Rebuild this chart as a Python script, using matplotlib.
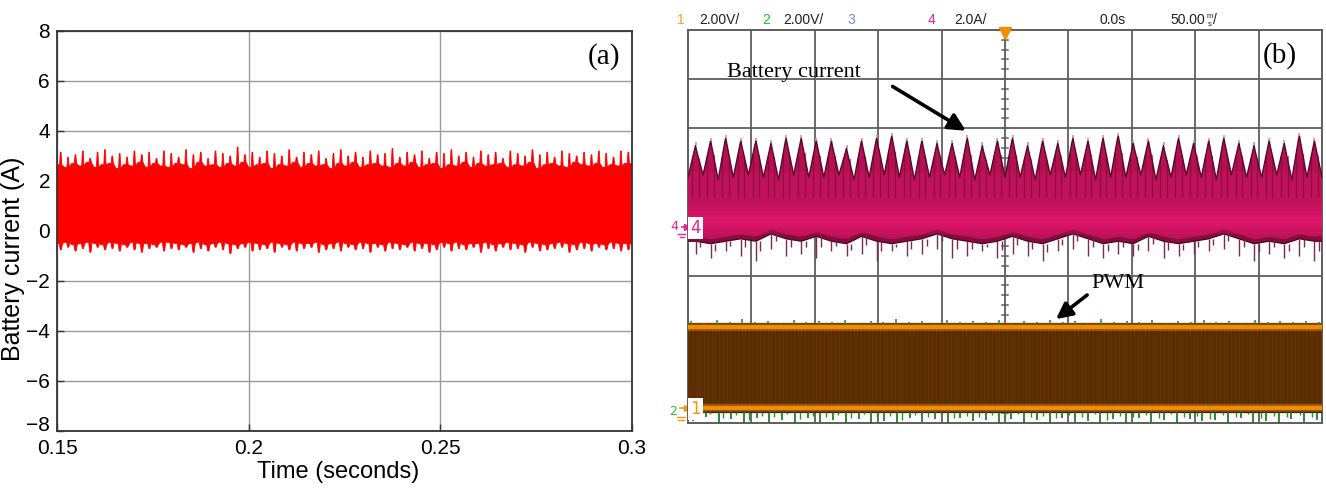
import numpy as np
import matplotlib
matplotlib.use("Agg")
import matplotlib.pyplot as plt

# ---------------- data: panel (a) simulated battery current ----------------
a_xlim = (0.15, 0.30)
a_ylim = (-8, 8)
a_xticks = [0.15, 0.2, 0.25, 0.3]
a_xticklabels = ["0.15", "0.2", "0.25", "0.3"]
a_yticks = [-8, -6, -4, -2, 0, 2, 4, 6, 8]
a_yticklabels = ["\u22128", "\u22126", "\u22124", "\u22122", "0", "2", "4", "6", "8"]

a_upper_peaks = [3.15, 2.95, 3.05, 3.20, 2.90, 3.15, 3.25, 3.00, 3.10, 2.95, 3.20, 3.05, 3.15, 2.90, 3.20,
                 3.10, 2.95, 3.25, 3.05, 3.15, 2.90, 3.20, 3.10, 3.00, 3.35, 3.05, 3.15, 2.95, 3.20, 3.10,
                 3.00, 3.25, 2.95, 3.15, 3.05, 3.20, 2.90, 3.10, 3.25, 3.00, 3.15, 2.95, 3.20, 3.05, 3.10,
                 3.30, 2.95, 3.15, 3.05, 3.20, 2.90, 3.15, 3.10, 3.25, 3.00, 3.15, 2.95, 3.20, 3.05, 3.15,
                 2.90, 3.20, 3.10, 3.00, 3.25, 3.05, 3.15, 2.95, 3.20, 3.10, 3.00, 3.15, 3.05, 3.20, 3.10, 2.95, 3.20, 3.15]
a_upper_base = [2.65, 2.55, 2.70, 2.60, 2.75, 2.55, 2.65, 2.70, 2.50, 2.65, 2.60, 2.75, 2.55, 2.70, 2.60,
                2.55, 2.70, 2.65, 2.50, 2.75, 2.60, 2.65, 2.55, 2.70, 2.60, 2.75, 2.55, 2.65, 2.70, 2.50,
                2.65, 2.60, 2.75, 2.55, 2.70, 2.60, 2.65, 2.50, 2.70, 2.60, 2.75, 2.55, 2.65, 2.70, 2.60,
                2.55, 2.70, 2.60, 2.75, 2.55, 2.65, 2.70, 2.50, 2.65, 2.60, 2.75, 2.55, 2.70, 2.60, 2.65,
                2.70, 2.55, 2.65, 2.60, 2.75, 2.50, 2.65, 2.70, 2.60, 2.55, 2.75, 2.65, 2.60, 2.70, 2.55, 2.65, 2.60, 2.70]
a_lower_peaks = [-0.75, -0.65, -0.80, -0.70, -0.85, -0.65, -0.75, -0.70, -0.80, -0.65, -0.75, -0.85, -0.70, -0.65, -0.80,
                 -0.70, -0.75, -0.65, -0.85, -0.70, -0.80, -0.65, -0.75, -0.90, -0.70, -0.65, -0.80, -0.75, -0.70, -0.85,
                 -0.65, -0.75, -0.80, -0.70, -0.65, -0.85, -0.75, -0.70, -0.80, -0.65, -0.75, -0.70, -0.85, -0.65, -0.80,
                 -0.70, -0.75, -0.65, -0.80, -0.70, -0.85, -0.75, -0.65, -0.80, -0.70, -0.75, -0.65, -0.85, -0.70, -0.80,
                 -0.65, -0.75, -0.70, -0.85, -0.65, -0.80, -0.75, -0.70, -0.65, -0.85, -0.75, -0.70, -0.80, -0.65, -0.75, -0.70, -0.80, -0.75]
a_lower_base = [-0.50, -0.45, -0.55, -0.50, -0.45, -0.50, -0.55, -0.45, -0.50, -0.55, -0.45, -0.50, -0.50, -0.55, -0.45,
                -0.45, -0.50, -0.55, -0.50, -0.45, -0.55, -0.50, -0.45, -0.50, -0.55, -0.50, -0.45, -0.50, -0.55, -0.45,
                -0.50, -0.55, -0.45, -0.50, -0.50, -0.45, -0.55, -0.50, -0.45, -0.50, -0.55, -0.45, -0.50, -0.50, -0.55,
                -0.45, -0.50, -0.55, -0.45, -0.50, -0.50, -0.55, -0.45, -0.50, -0.45, -0.55, -0.50, -0.50, -0.45, -0.55,
                -0.50, -0.45, -0.50, -0.55, -0.45, -0.50, -0.55, -0.50, -0.45, -0.50, -0.55, -0.45, -0.50, -0.50, -0.55, -0.45, -0.50, -0.50]

# ---------------- data: panel (b) oscilloscope capture ----------------
b_divs_x = 10
b_divs_y = 8
b_ch4_scale = 2.0        # A / div
b_ch1_scale = 2.0        # V / div
b_ch4_offset = 0.0       # div
b_ch1_offset = -3.70     # div
b_peaks_A = [3.3, 3.5, 3.6, 3.5, 3.5, 3.4, 3.6, 3.6, 3.5, 3.5, 3.2, 3.5, 3.6, 3.7, 3.5, 3.5, 3.4, 3.4, 3.6, 3.3, 3.5,
             3.6, 3.3, 3.5, 3.4, 3.6, 3.5, 3.6, 3.7, 3.4, 3.5, 3.3, 3.6, 3.4, 3.5, 3.6, 3.4, 3.3, 3.5, 3.4, 3.7, 3.5]
b_troughs_A = [2.0, 2.1, 1.9, 2.0, 2.1, 2.0, 1.9, 2.1, 2.0, 2.0, 2.1, 1.9, 2.0, 2.1, 2.0, 1.9, 2.0, 2.1, 2.0, 1.9, 2.1,
               2.0, 2.0, 1.9, 2.1, 2.0, 2.1, 1.9, 2.0, 2.0, 2.1, 1.9, 2.0, 2.1, 2.0, 1.9, 2.1, 2.0, 2.0, 2.1, 1.9, 2.0]
b_lower_A = [-0.6, -0.7, -0.6, -0.5, -0.6, -0.3, -0.5, -0.6, -0.4, -0.6, -0.7, -0.4, -0.6, -0.7, -0.6, -0.5, -0.3, -0.5,
             -0.6, -0.7, -0.6, -0.4, -0.6, -0.7, -0.5, -0.3, -0.5, -0.7, -0.6, -0.7, -0.4, -0.6, -0.7, -0.6, -0.5, -0.3,
             -0.5, -0.7, -0.6, -0.7, -0.5, -0.6]
b_hairs_A = [-1.1, -1.3, -1.0, -1.2, -1.4, -0.9, -1.2, -1.1, -1.3, -1.0, -1.2, -1.1, -1.4, -1.0, -1.2, -1.1, -0.9, -1.3,
             -1.2, -1.0, -1.3, -1.1, -1.2, -1.4, -1.0, -0.9, -1.2, -1.3, -1.1, -1.2, -1.0, -1.3, -1.2, -1.1, -1.0, -0.9,
             -1.2, -1.4, -1.1, -1.3, -1.2, -1.4]
b_pwm_high_V = 3.3
b_pwm_low_V = 0.0
b_green_top = [0.06, 0.03, 0.08, 0.04, 0.10, 0.05, 0.07, 0.03, 0.09, 0.05, 0.06, 0.04, 0.08, 0.03, 0.07, 0.05, 0.10, 0.04,
               0.06, 0.03, 0.08, 0.05, 0.07, 0.04, 0.09, 0.03, 0.06, 0.05, 0.08, 0.04, 0.07, 0.03, 0.10, 0.05, 0.06, 0.04,
               0.08, 0.03, 0.07, 0.05, 0.09, 0.04, 0.06, 0.03, 0.08, 0.05, 0.07, 0.04, 0.06, 0.05]
b_green_bot = [0.18, 0.10, 0.22, 0.14, 0.25, 0.12, 0.20, 0.16, 0.28, 0.11, 0.19, 0.15, 0.24, 0.13, 0.21, 0.17, 0.26, 0.12,
               0.20, 0.14, 0.23, 0.11, 0.18, 0.16, 0.27, 0.13, 0.21, 0.15, 0.24, 0.12, 0.19, 0.17, 0.25, 0.14, 0.22, 0.11,
               0.20, 0.16, 0.26, 0.13, 0.18, 0.15, 0.23, 0.12, 0.21, 0.17, 0.24, 0.14, 0.19, 0.16]

W, H = 1326, 488
fig = plt.figure(figsize=(W / 100, H / 100), dpi=100)
fig.patch.set_facecolor("white")

# ======================= panel (a) =======================
ax_a = fig.add_axes([57 / W, 1 - 431 / H, 575 / W, 400 / H])
ax_a.set_xlim(*a_xlim)
ax_a.set_ylim(*a_ylim)

n = min(len(a_upper_peaks), len(a_upper_base))
tc = np.linspace(a_xlim[0], a_xlim[1], n + 1)
dt = tc[1] - tc[0]
xu, yu = [], []
for i in range(n):
    t0 = tc[i]
    xu += [t0, t0 + 0.35 * dt, t0 + 0.45 * dt, t0 + 0.55 * dt, t0 + 0.65 * dt]
    yu += [a_upper_base[i], a_upper_base[i], a_upper_peaks[i], a_upper_peaks[i], a_upper_base[i]]
xu.append(a_xlim[1]); yu.append(a_upper_base[n - 1])
m = min(len(a_lower_peaks), len(a_lower_base))
tl = np.linspace(a_xlim[0], a_xlim[1], m + 1)
dl = tl[1] - tl[0]
xl, yl = [], []
for i in range(m):
    t0 = tl[i]
    xl += [t0, t0 + 0.3 * dl, t0 + 0.45 * dl, t0 + 0.6 * dl, t0 + 0.75 * dl]
    yl += [a_lower_base[i], a_lower_base[i], a_lower_peaks[i], a_lower_peaks[i], a_lower_base[i]]
xl.append(a_xlim[1]); yl.append(a_lower_base[m - 1])
ax_a.fill(np.concatenate([xu, xl[::-1]]), np.concatenate([yu, yl[::-1]]),
          color="#ff0000", lw=0.6, ec="#ff0000", zorder=3)

ax_a.set_xticks(a_xticks)
ax_a.set_xticklabels(a_xticklabels)
ax_a.set_yticks(a_yticks)
ax_a.set_yticklabels(a_yticklabels)
ax_a.grid(True, color="#9a9a9a", lw=1.0, zorder=1)
ax_a.set_axisbelow(True)
for s in ax_a.spines.values():
    s.set_color("#333333")
    s.set_linewidth(1.3)
    s.set_zorder(5)
ax_a.tick_params(direction="in", length=5, width=1, color="#333333",
                 labelsize=15, top=False, right=False)
ax_a.tick_params(axis="x", pad=6)
ax_a.tick_params(axis="y", pad=5)
for lab in ax_a.get_xticklabels() + ax_a.get_yticklabels():
    lab.set_family("Liberation Sans")
ax_a.get_yticklabels()[0].set_verticalalignment("baseline")
ax_a.set_xlabel("Time (seconds)", fontsize=17, family="Liberation Sans")
ax_a.xaxis.set_label_coords(0.489, -0.075)
ax_a.set_ylabel("Battery current (A)", fontsize=18, family="Liberation Sans")
ax_a.yaxis.set_label_coords(-0.055, 0.43)
ax_a.text(0.952, 0.935, "(a)", transform=ax_a.transAxes, ha="center", va="center",
          fontsize=21, family="Liberation Serif", zorder=6)

# ======================= panel (b) =======================
ax_b = fig.add_axes([688 / W, 1 - 423 / H, 634 / W, 393 / H])
ax_b.set_xlim(0, b_divs_x)
ax_b.set_ylim(-b_divs_y / 2, b_divs_y / 2)
ax_b.set_xticks([]); ax_b.set_yticks([])
gc = "#5e5e5e"
for i in range(1, b_divs_x):
    ax_b.axvline(i, color=gc, lw=1.3, zorder=1)
for j in range(-b_divs_y // 2 + 1, b_divs_y // 2):
    ax_b.axhline(j, color=gc, lw=1.3, zorder=1)
for s in ax_b.spines.values():
    s.set_color(gc)
    s.set_linewidth(1.4)
# minor ticks on the centre lines
for yk in np.arange(-4, 4.001, 0.2):
    ax_b.plot([4.95, 5.05], [yk, yk], color=gc, lw=1.1, zorder=1)
for xk in np.arange(0, 10.001, 0.2):
    ax_b.plot([xk, xk], [-0.06, 0.06], color=gc, lw=1.1, zorder=1)

# ---- channel 4: battery current ----
npk = len(b_peaks_A)
xp = (np.arange(npk) + 0.5) * b_divs_x / npk
sp = b_divs_x / npk
def to_div4(v):
    return np.asarray(v) / b_ch4_scale + b_ch4_offset
pk = to_div4(b_peaks_A)
tr = to_div4(b_troughs_A)
lo = to_div4(b_lower_A)
hr = to_div4(b_hairs_A)
ux, uy = [0.0], [tr[0]]
for i in range(npk):
    nxt = tr[i + 1] if i + 1 < npk else tr[i]
    ux += [xp[i] - 0.06 * sp, xp[i], xp[i] + 0.06 * sp, xp[i] + 0.5 * sp]
    uy += [pk[i] - 0.08, pk[i], pk[i] - 0.10, nxt]
ux[-1] = b_divs_x
lx = np.concatenate([[0.0], xp, [b_divs_x]])
ly = np.concatenate([[lo[0]], lo, [lo[-1]]])
poly_x = np.concatenate([ux, lx[::-1]])
poly_y = np.concatenate([uy, ly[::-1]])
body = ax_b.fill(poly_x, poly_y, color="#c0125a", lw=0, zorder=3)[0]
# shading: dark near the edges, bright pink core
band_x = np.linspace(0, b_divs_x, 200)
low_interp = np.interp(band_x, lx, ly)
f1 = ax_b.fill_between(band_x, low_interp, low_interp + 0.10, color="#6e0a33", alpha=0.7, lw=0, zorder=4)
f1.set_clip_path(body)
for (a0, a1, al) in [(-0.15, 0.45, 0.22), (-0.05, 0.32, 0.25), (0.02, 0.2, 0.3)]:
    fb = ax_b.fill_between(band_x, a0, a1, color="#ee1a74", alpha=al, lw=0, zorder=4)
    fb.set_clip_path(body)
f3 = ax_b.fill_between(band_x, 1.1, 2.0, color="#8e0c40", alpha=0.2, lw=0, zorder=4)
f3.set_clip_path(body)
# dark streaks on the flanks of each peak
for i in range(npk):
    for off in (-0.22, 0.22):
        xs = xp[i] + off * sp
        ytop = pk[i] - abs(off) * 2 * (pk[i] - tr[i]) * 0.95
        ax_b.plot([xs, xs], [0.6, ytop], color="#6a0830", lw=0.9, alpha=0.55, zorder=4)
ax_b.plot(ux, uy, color="#5a0828", lw=1.0, zorder=5)
ax_b.plot(lx, ly, color="#4a0622", lw=0.9, zorder=5)
ax_b.vlines(xp, lo, hr, color="#7a2a4a", lw=1.0, zorder=5)
ax_b.vlines(xp + 0.3 * sp, lo, (lo + hr) / 2, color="#7a2a4a", lw=1.0, zorder=5)
ax_b.vlines(xp, pk, pk + 0.06, color="#d88aa8", lw=1.2, zorder=5)

# ---- channel 1 (PWM) and channel 2 ----
hi = b_ch1_offset + b_pwm_high_V / b_ch1_scale
lw_ = b_ch1_offset + b_pwm_low_V / b_ch1_scale
ax_b.fill_between([0, b_divs_x], lw_ - 0.08, hi + 0.08, color="#5a2c02", lw=0, zorder=3)
ax_b.vlines(np.linspace(0.02, 9.98, 170), lw_, hi, color="#7c4210", alpha=0.35, lw=1.0, zorder=3)
ax_b.axhline(hi + 0.06, xmin=0, xmax=1, color="#2e1600", lw=1.6, zorder=4)
ax_b.axhline(lw_ - 0.08, xmin=0, xmax=1, color="#2e1600", lw=1.6, zorder=4)
for yv in (hi, lw_):
    ax_b.axhline(yv, color="#ffa640", lw=6, alpha=0.35, zorder=5)
    ax_b.axhline(yv, color="#f58c00", lw=3, zorder=5)
ng = len(b_green_top)
gx = np.linspace(0.05, 9.95, ng)
ax_b.vlines(gx, hi + 0.06, hi + 0.06 + np.asarray(b_green_top), color="#1f9a1f", lw=1.2, zorder=6)
nb = len(b_green_bot)
gbx = np.linspace(0.08, 9.92, nb)
ax_b.vlines(gbx, lw_ - 0.08, lw_ - 0.08 - np.asarray(b_green_bot), color="#176f17", lw=1.2, zorder=6)
ax_b.vlines(gx + 0.1, lw_ - 0.08, lw_ - 0.08 - np.asarray(b_green_top) * 1.5, color="#1f9a1f", lw=1.0, zorder=6)

# ---- channel markers ----
ax_b.text(-0.21, 0.0, "4", color="#f0208c", fontsize=9, ha="center", va="center",
          family="DejaVu Sans", clip_on=False)
ax_b.plot([-0.1, -0.02], [0.0, 0.0], color="#f0208c", lw=1.2, clip_on=False)
ax_b.plot([-0.02], [0.0], marker=">", color="#f0208c", ms=4, clip_on=False)
ax_b.plot([-0.16, -0.04], [-0.16, -0.16], color="#f0208c", lw=1, clip_on=False)
ax_b.plot([-0.13, -0.07], [-0.22, -0.22], color="#f0208c", lw=1, clip_on=False)
ax_b.text(0.12, -0.03, "4", color="#f0208c", fontsize=12, ha="center", va="center",
          family="DejaVu Sans", zorder=8, bbox=dict(fc="white", ec="none", pad=1.5))
ax_b.text(-0.24, b_ch1_offset - 0.06, "2", color="#2ac02a", fontsize=9, ha="center", va="center",
          family="DejaVu Sans", clip_on=False)
ax_b.plot([-0.12, -0.02], [b_ch1_offset, b_ch1_offset], color="#f59a10", lw=1.2, clip_on=False)
ax_b.plot([-0.02], [b_ch1_offset], marker=">", color="#f59a10", ms=4, clip_on=False)
ax_b.plot([-0.18, -0.04], [b_ch1_offset - 0.18, b_ch1_offset - 0.18], color="#f59a10", lw=1, clip_on=False)
ax_b.plot([-0.15, -0.07], [b_ch1_offset - 0.24, b_ch1_offset - 0.24], color="#f59a10", lw=1, clip_on=False)
ax_b.text(0.12, b_ch1_offset - 0.02, "1", color="#f59a10", fontsize=12, ha="center", va="center",
          family="DejaVu Sans", zorder=8, bbox=dict(fc="white", ec="none", pad=1.5))
# trigger marker
ax_b.plot([5.0], [3.93], marker="v", color="#f58c00", ms=9, clip_on=False, zorder=9)

# ---- annotations ----
ax_b.text(0.615, 3.13, "Battery current", fontsize=16, family="Liberation Serif",
          ha="left", va="center", zorder=9)
ax_b.annotate("", xy=(4.42, 1.92), xytext=(3.19, 2.88),
              arrowprops=dict(arrowstyle="-|>", color="black", lw=2.6, mutation_scale=26), zorder=9)
ax_b.text(6.37, -1.17, "PWM", fontsize=16, family="Liberation Serif",
          ha="left", va="center", zorder=9)
ax_b.annotate("", xy=(5.77, -1.92), xytext=(6.33, -1.36),
              arrowprops=dict(arrowstyle="-|>", color="black", lw=2.6, mutation_scale=24), zorder=9)
ax_b.text(0.934, 0.936, "(b)", transform=ax_b.transAxes, ha="center", va="center",
          fontsize=21, family="Liberation Serif", zorder=9,
          bbox=dict(fc="white", ec="none", pad=1))

# ---- header line ----
hy = 1 - 20 / H
hdr = [(677, "1", "#f5a020"), (699, "2.00V/", "#202020"), (762, "2", "#20c020"),
       (783, "2.00V/", "#202020"), (847, "3", "#6a8cff"), (928, "4", "#f0208c"),
       (954, "2.0A/", "#202020"), (1099, "0.0s", "#202020"), (1170, "50.00", "#202020")]
for px, txt, col in hdr:
    fig.text(px / W, hy, txt, color=col, fontsize=10, family="Liberation Sans", ha="left", va="center")
fig.text(1207 / W, hy + 4 / H, "m", fontsize=5.5, family="Liberation Sans", ha="left", va="center", color="#202020")
fig.text(1208 / W, hy - 4 / H, "s", fontsize=5.5, family="Liberation Sans", ha="left", va="center", color="#202020")
fig.text(1213 / W, hy, "/", fontsize=10, family="Liberation Sans", ha="left", va="center", color="#202020")

fig.savefig("out.png", dpi=100, facecolor="white")
